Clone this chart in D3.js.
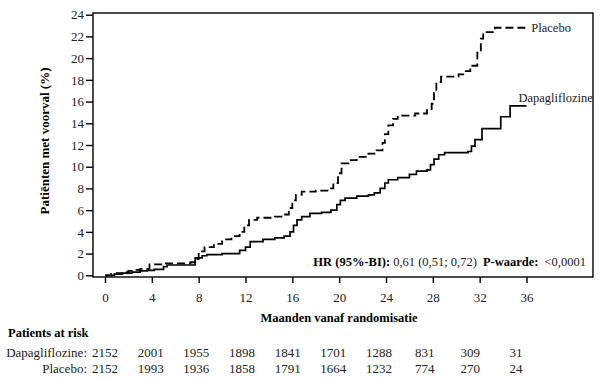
<!DOCTYPE html>
<html>
<head>
<meta charset="utf-8">
<script src="https://cdn.jsdelivr.net/npm/d3@7"></script>
<style>
  html, body { margin: 0; padding: 0; background: #fff; }
</style>
</head>
<body>
<svg id="chart" width="605" height="378"></svg>
<script>
// ---- data ----
const placeboMonths = [0,0.5,1,1.5,2,2.5,3,3.8,5,7.3,7.7,8.0,8.5,9.3,10,10.8,11.5,11.9,12.3,13,14.5,15.3,15.7,16,16.3,16.8,18,19,19.5,19.9,20.2,20.8,21.5,22.5,23.2,23.7,23.9,24.2,24.6,25,26.5,27.5,27.9,28.1,28.3,28.7,30.2,30.7,31.2,31.8,32.1,32.3,33.3,35.9];
const placeboValues = [0,0.1,0.2,0.3,0.4,0.5,0.6,1.0,1.1,1.2,1.5,2.2,2.6,2.9,3.3,3.6,4.0,4.6,5.1,5.3,5.4,5.6,6.2,6.9,7.4,7.7,7.8,8.0,8.5,9.4,10.3,10.6,10.9,11.2,11.5,12.2,13.0,13.8,14.4,14.7,14.9,15.2,15.8,16.8,17.8,18.3,18.5,18.8,19.3,20.5,21.8,22.4,22.8,22.8];

const dapaMonths = [0,0.8,1.5,2.3,3,3.6,4.2,5,5.3,7.7,8.3,8.7,10,11.5,12,12.4,13.5,14.5,15.3,15.8,16.1,16.4,16.8,17.5,18.5,19.3,19.8,20.1,20.5,21.5,22.5,23,23.5,23.9,24.2,25,26,26.6,27.5,27.8,28.1,28.5,29,31,31.3,31.6,32.2,33.8,34.6,36];
const dapaValues = [0,0.1,0.2,0.3,0.4,0.45,0.55,0.8,0.95,1.6,1.8,1.9,2.0,2.3,2.6,3.1,3.3,3.45,3.6,4.0,4.6,5.1,5.4,5.7,5.8,6.0,6.5,6.9,7.1,7.3,7.4,7.6,8.0,8.5,8.8,9.0,9.3,9.6,9.7,10.2,10.7,11.1,11.3,11.4,11.9,12.5,13.5,14.6,15.6,15.6];

const xTicks = [0,4,8,12,16,20,24,28,32,36];
const yTicks = [0,2,4,6,8,10,12,14,16,18,20,22,24];

const riskGroups = ["Dapagliflozine:", "Placebo:"];
const riskDapa = [2152,2001,1955,1898,1841,1701,1288,831,309,31];
const riskPlacebo = [2152,1993,1936,1858,1791,1664,1232,774,270,24];

// ---- drawing ----
const FONT = "'Liberation Serif', 'Times New Roman', serif";
const FS = 13;
const FT = 12.5;
const svg = d3.select("#chart").attr("font-family", FONT);
const frame = {left: 93, right: 593, top: 13, bottom: 277};

const x = d3.scaleLinear().domain([0, 36]).range([105, 526.5]);
const y = d3.scaleLinear().domain([0, 24]).range([275.3, 14.7]);

// frame
svg.append("rect")
  .attr("x", frame.left).attr("y", frame.top)
  .attr("width", frame.right - frame.left).attr("height", frame.bottom - frame.top)
  .attr("fill", "none").attr("stroke", "#000").attr("stroke-width", 1.4);

// y axis
const yAxis = svg.append("g").attr("transform", `translate(${frame.left},0)`)
  .call(d3.axisLeft(y).tickValues(yTicks).tickSize(7).tickPadding(2).tickFormat(d3.format("d")));
yAxis.attr("font-family", FONT);
yAxis.select(".domain").remove();
yAxis.selectAll("line").attr("stroke", "#000").attr("stroke-width", 1.4);
yAxis.selectAll("text").attr("font-size", FS).attr("fill", "#222");

// x axis
const xAxis = svg.append("g").attr("transform", `translate(0,${frame.bottom})`)
  .call(d3.axisBottom(x).tickValues(xTicks).tickSize(6).tickPadding(10).tickFormat(d3.format("d")));
xAxis.attr("font-family", FONT);
xAxis.select(".domain").remove();
xAxis.selectAll("line").attr("stroke", "#000").attr("stroke-width", 1.4);
xAxis.selectAll("text").attr("font-size", FS).attr("fill", "#222");

// axis titles
svg.append("text")
  .attr("transform", `translate(49,141) rotate(-90)`)
  .attr("text-anchor", "middle")
  .attr("font-size", FT + 0.5).attr("font-weight", "bold")
  .text("Patiënten met voorval (%)");

svg.append("text")
  .attr("x", 339).attr("y", 322)
  .attr("text-anchor", "middle")
  .attr("font-size", FT).attr("font-weight", "bold")
  .text("Maanden vanaf randomisatie");

// curves
const line = d3.line().curve(d3.curveStepAfter)
  .x(d => x(d[0])).y(d => y(d[1]));

const placeboPts = placeboMonths.map((m, i) => [m, placeboValues[i]]);
const dapaPts = dapaMonths.map((m, i) => [m, dapaValues[i]]);

svg.append("path").datum(dapaPts)
  .attr("d", line).attr("fill", "none")
  .attr("stroke", "#000").attr("stroke-width", 1.7);

svg.append("path").datum(placeboPts)
  .attr("d", line).attr("fill", "none")
  .attr("stroke", "#000").attr("stroke-width", 1.8)
  .attr("stroke-dasharray", "8,4");

// curve labels
svg.append("text")
  .attr("x", x(placeboMonths[placeboMonths.length - 1]) + 6)
  .attr("y", y(placeboValues[placeboValues.length - 1]) + 4)
  .attr("font-size", FT).attr("fill", "#222").text("Placebo");

svg.append("text")
  .attr("x", x(dapaMonths[dapaMonths.length - 1]) - 8)
  .attr("y", y(dapaValues[dapaValues.length - 1]) - 4)
  .attr("font-size", FT).attr("fill", "#222").text("Dapagliflozine");

// HR text
const hr = svg.append("text")
  .attr("x", 586).attr("y", 266)
  .attr("text-anchor", "end")
  .attr("font-size", FT).attr("fill", "#222");
hr.append("tspan").attr("font-weight", "bold").attr("fill", "#000").text("HR (95%-BI):");
hr.append("tspan").text(" 0,61 (0,51; 0,72)");
hr.append("tspan").attr("font-weight", "bold").attr("fill", "#000").attr("dx", 6).text("P-waarde:");
hr.append("tspan").attr("dx", 3).text(" <0,0001");

// risk table
svg.append("text")
  .attr("x", 8).attr("y", 337)
  .attr("font-size", FT).attr("font-weight", "bold")
  .text("Patients at risk");

const colX = d3.scaleLinear().domain([0, xTicks.length - 1]).range([105, 516]);
const rowY = d3.scalePoint().domain(riskGroups).range([357, 373]);
const riskRows = [riskDapa, riskPlacebo];

riskGroups.forEach((g, r) => {
  svg.append("text")
    .attr("x", 87).attr("y", rowY(g))
    .attr("text-anchor", "end")
    .attr("font-size", FS).attr("fill", "#222")
    .text(g);
  svg.selectAll(null).data(riskRows[r]).enter().append("text")
    .attr("x", (d, i) => colX(i)).attr("y", rowY(g))
    .attr("text-anchor", "middle")
    .attr("font-size", FS).attr("fill", "#222")
    .text(d => d);
});
</script>
</body>
</html>
